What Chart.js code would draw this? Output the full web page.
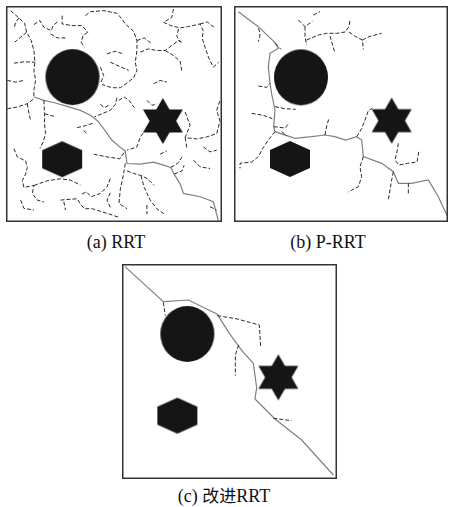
<!DOCTYPE html>
<html>
<head>
<meta charset="utf-8">
<script src="https://cdn.jsdelivr.net/npm/chart.js@4"></script>
<style>
  body { margin: 0; background: #fff; width: 449px; height: 507px; position: relative; overflow: hidden; }
  canvas { position: absolute; }
  .cap { position: absolute; font-size: 18px; font-family: "Liberation Serif", "DejaVu Serif", serif; color: #111; white-space: nowrap; transform: translateX(-50%); }
  .cap span { font-family: "Noto Sans CJK SC", sans-serif; font-size: 17px; }
</style>
</head>
<body>
<canvas id="chartA" width="216" height="216" style="left:6px;top:6px"></canvas>
<canvas id="chartB" width="214" height="216" style="left:234px;top:6px"></canvas>
<canvas id="chartC" width="215" height="215" style="left:122px;top:264px"></canvas>
<div class="cap" style="left:116px;top:232px">(a) RRT</div>
<div class="cap" style="left:328px;top:232px">(b) P-RRT</div>
<div class="cap" style="left:224px;top:482px">(c) <span>改进</span>RRT</div>
<script>
// map coordinates of each panel (y grows downwards)
const aBounds = [16, 666, 16, 666];
const bBounds = [27, 669, 18, 666];
const cBounds = [36, 681, 27, 672];

// obstacles: circle, star, hexagon centres
const aObstacles = [[216, 230], [488, 362], [185, 477]];
const bObstacles = [[228, 232], [500, 362], [195, 477]];
const cObstacles = [[232, 237], [505, 367], [202, 482]];

// final paths
const aPath = [[100,290],[130,300],[165,308],[200,318],[240,330],[270,345],[292,362],[312,388],[335,420],[358,440],[375,452],[380,490],[420,492],[460,486],[490,495],[512,502],[522,522],[540,552],[550,580],[600,590],[640,605],[655,662]];
const bPath = [[40,35],[100,80],[150,128],[160,145],[135,160],[130,200],[135,250],[140,282],[150,330],[146,380],[150,395],[210,415],[260,410],[300,405],[330,410],[362,420],[395,410],[410,420],[415,470],[470,490],[505,515],[520,550],[560,550],[610,540],[640,590],[668,650]];
const cPath = [[45,35],[160,140],[235,135],[322,178],[358,235],[398,290],[430,325],[440,398],[435,432],[495,492],[575,555],[670,660]];

// explored tree branches
const aBranches = [
  [[30,30],[55,52],[72,68],[78,95],[92,120],[100,150],[103,185],[100,210],[105,240],[100,268],[100,290]],
  [[55,52],[45,65],[40,85]],
  [[78,95],[60,110],[42,125]],
  [[40,188],[70,184],[103,185]],
  [[100,72],[118,60],[130,80],[152,90],[158,75],[175,60]],
  [[185,45],[185,70],[215,75],[245,75],[262,95]],
  [[262,95],[248,105],[242,125],[252,140]],
  [[255,45],[270,33],[310,30],[350,38],[365,55],[375,70],[400,92],[410,120],[410,150],[405,185],[410,210],[400,232],[380,248],[360,262],[335,262],[305,252]],
  [[410,120],[432,112],[455,130]],
  [[420,155],[445,145],[470,150],[495,150],[515,135],[535,120],[550,128]],
  [[495,150],[520,165],[540,182],[545,212]],
  [[320,160],[345,152],[368,160]],
  [[330,185],[358,198],[385,210]],
  [[520,25],[515,50],[490,65],[512,75],[540,82],[565,78],[600,70],[610,92],[606,112],[615,140],[626,172],[640,200],[656,185]],
  [[600,70],[622,64],[642,80]],
  [[535,85],[530,108],[542,125]],
  [[20,325],[50,320],[80,310],[100,295]],
  [[80,310],[85,338],[90,360]],
  [[130,300],[132,340],[132,372],[135,400],[128,425],[118,445]],
  [[132,340],[160,348]],
  [[350,292],[345,312],[330,330],[305,340],[282,350]],
  [[355,300],[372,290],[388,302],[402,322]],
  [[230,382],[255,376],[280,368]],
  [[250,390],[262,404]],
  [[555,335],[570,375],[560,400],[555,412],[590,416],[620,410],[650,400],[660,362],[650,330],[660,300]],
  [[555,412],[560,442]],
  [[440,385],[420,410],[410,440],[380,450]],
  [[40,445],[50,470],[75,482],[80,502],[75,522],[65,542],[70,562],[100,556],[95,580],[110,600],[130,606]],
  [[100,556],[140,542],[180,536],[210,540],[240,555]],
  [[180,600],[230,596],[240,612],[252,626],[276,626],[320,640],[356,652]],
  [[280,462],[320,470],[358,476],[375,452]],
  [[375,490],[370,520],[365,545],[360,568],[356,610],[380,626]],
  [[330,578],[320,600],[330,622]],
  [[380,512],[400,520],[422,526],[442,536],[462,556]],
  [[422,526],[432,562],[450,600],[470,626],[492,642]],
  [[440,615],[440,642]],
  [[512,502],[532,490],[546,470]],
  [[522,522],[546,512],[552,495]],
  [[245,582],[258,575],[272,590],[300,580],[320,560],[330,535]],
  [[300,312],[312,322],[330,312]],
  [[480,462],[500,452]],
  [[300,200],[310,225],[300,250]],
  [[150,100],[170,112],[195,112]],
  [[20,240],[45,245],[70,240]],
  [[60,600],[70,625],[100,630]],
  [[190,605],[195,630]],
  [[580,480],[600,500],[630,505]],
  [[630,620],[650,630]],
  [[610,440],[630,455],[650,450]],
  [[460,250],[480,240],[500,245]],
  [[440,300],[455,315],[470,310]]
];
const bBranches = [
  [[150,130],[168,148]],
  [[220,60],[240,80],[262,64]],
  [[240,80],[240,110],[245,135]],
  [[245,120],[280,105],[305,100],[335,100],[360,96],[372,80],[375,60]],
  [[372,96],[392,110],[412,120],[415,148]],
  [[412,120],[432,110],[470,100]],
  [[315,108],[330,160]],
  [[265,45],[285,35]],
  [[100,85],[106,100],[100,125]],
  [[100,258],[125,262],[135,250]],
  [[150,320],[178,326],[212,328]],
  [[80,340],[115,346],[142,356]],
  [[146,380],[180,384],[190,372]],
  [[170,395],[186,408]],
  [[300,405],[305,378],[312,355]],
  [[395,410],[410,386],[420,360],[430,332],[442,325]],
  [[150,395],[130,420],[115,442],[100,470],[80,486],[45,490],[45,505]],
  [[520,430],[515,460],[510,480],[522,495],[548,490],[576,486],[582,452]],
  [[415,470],[405,500],[410,530],[400,560],[370,576]],
  [[505,515],[500,540],[495,570],[490,600]],
  [[550,550],[550,585]]
];
const cBranches = [
  [[160,142],[166,182]],
  [[322,182],[382,192],[448,210],[452,278]],
  [[386,270],[376,300],[376,362]],
  [[490,490],[545,497]]
];

function shape(kind) {
  const c = document.createElement('canvas');
  c.width = 60; c.height = 60;
  const g = c.getContext('2d');
  g.fillStyle = '#151515';
  g.translate(30, 30);
  g.beginPath();
  if (kind === 'circle') {
    g.ellipse(0, 0, 27, 28, 0, 0, Math.PI * 2);
  } else if (kind === 'star') {
    for (let k = 0; k < 12; k++) {
      const r = k % 2 === 0 ? 23 : 13.3;
      const t = (-90 + k * 30) * Math.PI / 180;
      g.lineTo(r * Math.cos(t), r * Math.sin(t));
    }
  } else {
    [[0,-18],[20,-9],[20,9],[0,18],[-20,9],[-20,-9]].forEach(p => g.lineTo(p[0], p[1]));
  }
  g.closePath();
  g.fill();
  return c;
}
const shapes = [shape('circle'), shape('star'), shape('hex')];

const boxPlugin = {
  id: 'box',
  afterDraw(chart) {
    const { ctx, chartArea: a } = chart;
    ctx.save();
    ctx.strokeStyle = '#333';
    ctx.lineWidth = 1.5;
    ctx.strokeRect(a.left + 0.75, a.top + 0.75, a.right - a.left - 1.5, a.bottom - a.top - 1.5);
    ctx.restore();
  }
};

const pts = arr => arr.map(p => ({ x: p[0], y: p[1] }));

function makePanel(id, bounds, obstacles, path, branches) {
  const datasets = [];
  branches.forEach(b => datasets.push({
    data: pts(b), showLine: true, borderColor: '#2a2a2a', borderWidth: 1,
    borderDash: [4, 2], pointRadius: 0, fill: false
  }));
  datasets.push({
    data: pts(path), showLine: true, borderColor: '#808080', borderWidth: 1.2,
    pointRadius: 0, fill: false
  });
  datasets.push({
    data: pts(obstacles), showLine: false, pointStyle: shapes, pointRadius: 28
  });
  new Chart(document.getElementById(id), {
    type: 'scatter',
    data: { datasets },
    options: {
      responsive: false,
      animation: false,
      layout: { padding: 0, autoPadding: false },
      plugins: { legend: { display: false }, tooltip: { enabled: false } },
      scales: {
        x: { type: 'linear', display: false, min: bounds[0], max: bounds[1] },
        y: { type: 'linear', display: false, reverse: true, min: bounds[2], max: bounds[3] }
      }
    },
    plugins: [boxPlugin]
  });
}

makePanel('chartA', aBounds, aObstacles, aPath, aBranches);
makePanel('chartB', bBounds, bObstacles, bPath, bBranches);
makePanel('chartC', cBounds, cObstacles, cPath, cBranches);
</script>
</body>
</html>
